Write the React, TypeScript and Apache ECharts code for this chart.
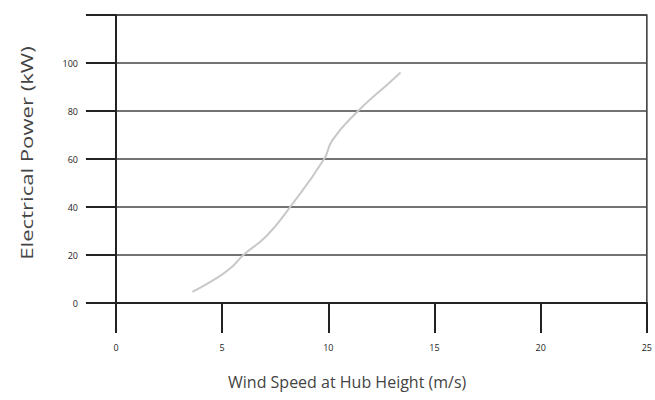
import React, { useEffect, useRef } from "react";
import * as echarts from "echarts";

const windSpeed = [3.6, 4.6, 5.4, 6.0, 7.1, 8.2, 9.8, 10.2, 11.4, 12.9, 13.4];
const power = [4.6, 9.6, 14.6, 20, 28, 40, 60, 68, 80, 92, 96];
const xTicks = [0, 5, 10, 15, 20, 25];
const yTicks = [0, 20, 40, 60, 80, 100];
const xTitle = "Wind Speed at Hub Height (m/s)";
const yTitle = "Electrical Power (kW)";

export default function App() {
  const ref = useRef<HTMLDivElement>(null);
  useEffect(() => {
    const chart = echarts.init(ref.current!, undefined, { renderer: "svg" });
    const pts = windSpeed.map((w, i) => [w, power[i]]);
    chart.setOption({
      animation: false,
      backgroundColor: "#fff",
      grid: {
        left: 116,
        right: 7,
        top: 15,
        bottom: 97,
        show: true,
        borderColor: "#333",
        borderWidth: 1.5,
      },
      xAxis: {
        type: "value",
        min: 0,
        max: 25,
        interval: 5,
        axisLine: { show: true, lineStyle: { color: "#222", width: 2 } },
        axisTick: { show: true, length: 30, lineStyle: { color: "#222", width: 2 } },
        axisLabel: {
          margin: 40,
          fontSize: 9,
          color: "#222",
          fontFamily: "Open Sans",
          formatter: (v: number) => (xTicks.includes(v) ? String(v) : ""),
        },
        splitLine: { show: false },
      },
      yAxis: {
        type: "value",
        min: 0,
        max: 120,
        interval: 20,
        axisLine: { show: true, lineStyle: { color: "#222", width: 2 } },
        axisTick: { show: true, length: 30, lineStyle: { color: "#222", width: 2 } },
        axisLabel: {
          margin: 38,
          fontSize: 9,
          color: "#222",
          fontFamily: "Open Sans",
          formatter: (v: number) => (yTicks.includes(v) ? String(v) : ""),
        },
        splitLine: { show: true, lineStyle: { color: "#444", width: 1.5 } },
      },
      graphic: [
        {
          type: "text",
          left: 228,
          top: 374,
          style: {
            text: xTitle,
            fontSize: 16,
            fill: "#444",
            fontFamily: "Open Sans",
          },
        },
        {
          type: "text",
          x: 27,
          y: 153,
          rotation: Math.PI / 2,
          scaleX: 1.3,
          style: {
            text: yTitle,
            fontSize: 17,
            fill: "#444",
            fontFamily: "Open Sans",
            align: "center",
            verticalAlign: "middle",
          },
        },
      ],
      series: [
        {
          type: "line",
          data: pts,
          smooth: true,
          showSymbol: false,
          lineStyle: { color: "#c8c8c8", width: 2 },
        },
      ],
    });
    return () => chart.dispose();
  }, []);
  return <div ref={ref} style={{ width: 655, height: 400, position: "absolute", left: 0, top: 0 }} />;
}
